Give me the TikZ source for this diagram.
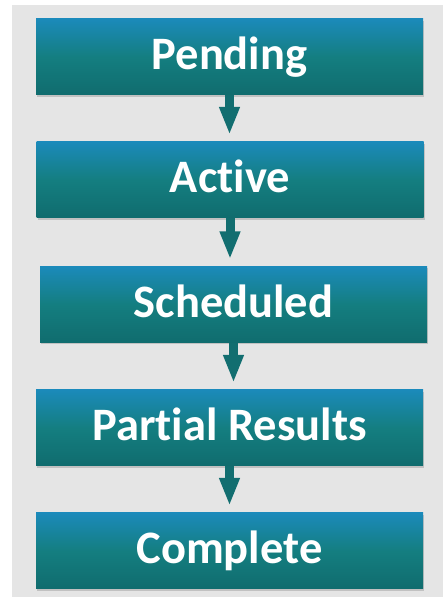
\documentclass[tikz,border=0pt]{standalone}
\usepackage{fontspec}
\setmainfont[Ligatures={NoCommon}]{Carlito}
\usetikzlibrary{arrows.meta,shadows}
\definecolor{boxtop}{RGB}{27,138,186}
\definecolor{boxmid}{RGB}{20,126,128}
\definecolor{boxbot}{RGB}{16,108,110}
\definecolor{arrowcol}{RGB}{18,110,112}
\definecolor{bggray}{RGB}{229,229,229}
\tikzset{
  stagebox/.style={rectangle, minimum width=387pt, minimum height=76pt,
    inner sep=0pt, top color=boxtop, bottom color=boxbot, middle color=boxmid,
    draw=none, text=white, font=\fontsize{46.5}{50}\selectfont\bfseries,
    text height=30pt, text depth=4pt,
    drop shadow={opacity=0.35, shadow xshift=1pt, shadow yshift=-2pt}},
  flowarrow/.style={draw=arrowcol, line width=9pt,
    -{Triangle[width=19pt,length=28pt]}, shorten >=7pt}
}
\begin{document}
\begin{tikzpicture}[x=1pt,y=1pt]
\useasboundingbox (0,0) rectangle (443,597);
\fill[white] (0,0) rectangle (443,597);
\fill[bggray] (12,0) rectangle (443,592);
\node[stagebox] (pending) at (229.5,540) {Pending};
\node[stagebox] (active) at (230,417) {Active};
\node[stagebox] (scheduled) at (233.5,292.5) {Scheduled};
\node[stagebox] (partial) at (229.5,169) {Partial Results};
\node[stagebox] (complete) at (229.5,46) {Complete};
\draw[flowarrow] (pending.south) -- (pending.south |- active.north);
\draw[flowarrow] (active.south) -- (active.south |- scheduled.north);
\draw[flowarrow] (scheduled.south) -- (scheduled.south |- partial.north);
\draw[flowarrow] (partial.south) -- (partial.south |- complete.north);
\end{tikzpicture}
\end{document}
